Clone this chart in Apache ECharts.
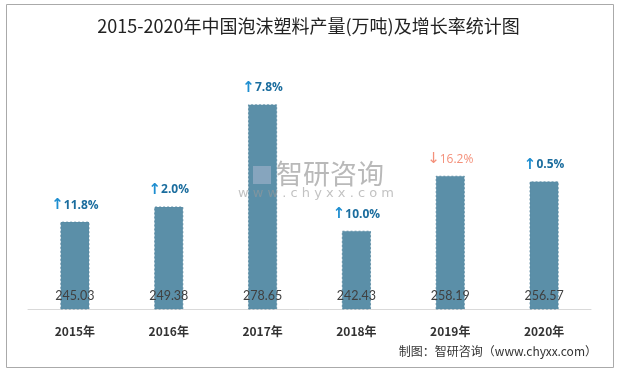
<!DOCTYPE html>
<html><head><meta charset="utf-8">
<script src="https://cdn.jsdelivr.net/npm/echarts@6/dist/echarts.min.js"></script>
<style>html,body{margin:0;padding:0;background:#fff}#c{width:617px;height:368px}</style>
</head><body><div id="c"></div>
<script>
var categories = ['2015年','2016年','2017年','2018年','2019年','2020年'];
var production = [245.03, 249.38, 278.65, 242.43, 258.19, 256.57];
var growth = [11.8, 2.0, 7.8, 10.0, -16.2, 0.5];
var chart = echarts.init(document.getElementById('c'));
var cjk = '"Noto Sans CJK SC", sans-serif';
chart.setOption({
  backgroundColor: '#fff',
  animation: false,
  title: {
    text: '2015-2020年中国泡沫塑料产量(万吨)及增长率统计图',
    left: 'center', top: 12,
    textStyle: { fontFamily: cjk, fontSize: 18, fontWeight: 'normal', color: '#222' }
  },
  grid: { left: 28, right: 26, top: 30, bottom: 59 },
  xAxis: {
    type: 'category', data: categories,
    axisLine: { lineStyle: { color: '#d9d9d9' } },
    axisTick: { show: false },
    axisLabel: { margin: 16, fontFamily: cjk, fontSize: 12, fontWeight: 'bold', color: '#333' }
  },
  yAxis: { type: 'value', min: 220, max: 300, show: false, splitLine: { show: false } },
  series: [{
    type: 'bar', data: production, barWidth: 29,
    itemStyle: { color: '#5b8fa8', borderColor: '#54879f', borderWidth: 0.8, borderType: [2, 2] },
    label: {
      show: true, position: 'insideBottom', distance: 7,
      fontFamily: 'Lato, "Open Sans", sans-serif', fontSize: 12.5, color: '#404040',
      formatter: function (p) { return p.value.toFixed(2); }
    }
  }, {
    type: 'bar', data: production, barWidth: 29, barGap: '-100%', silent: true,
    itemStyle: { color: 'transparent' },
    label: {
      show: true, position: 'top', distance: 9,
      formatter: function (p) {
        var g = growth[p.dataIndex];
        if (g < 0) return '{da|↓}{dt|' + Math.abs(g).toFixed(1) + '%}';
        return '{ua|↑}{ut|' + g.toFixed(1) + '%}';
      },
      rich: {
        ua: { color: '#1e8ed0', fontSize: 15, fontWeight: 'bold', fontFamily: 'DejaVu Sans' },
        ut: { color: '#1b6d9e', fontSize: 12, fontWeight: 'bold', fontFamily: 'Open Sans, sans-serif' },
        da: { color: '#f4907a', fontSize: 15, fontFamily: 'DejaVu Sans' },
        dt: { color: '#f4907a', fontSize: 12, fontFamily: 'Open Sans, sans-serif' }
      }
    }
  }],
  graphic: [
    { type: 'rect', left: 4, top: 2, shape: { width: 607, height: 363 }, style: { fill: 'none', stroke: '#aaa', lineWidth: 1 }, z: 100 },
    { type: 'rect', left: 253, top: 166, shape: { width: 18, height: 18 }, style: { fill: '#aab8cf', opacity: 0.55 }, z: 90 },
    { type: 'text', left: 276, top: 160, style: { text: '智研咨询', font: '27px "Noto Sans CJK SC"', fill: '#8a8a8a', opacity: 0.6 }, z: 90 },
    { type: 'text', left: 238, top: 187, style: { text: 'w w w . c h y x x . c o m', font: '13px "DejaVu Sans"', fill: '#999', opacity: 0.6 }, z: 90 },
    { type: 'text', right: 20, top: 345, style: { text: '制图：智研咨询（www.chyxx.com）', font: '12px "Noto Sans CJK SC"', fill: '#333' }, z: 90 }
  ]
});
</script></body></html>
